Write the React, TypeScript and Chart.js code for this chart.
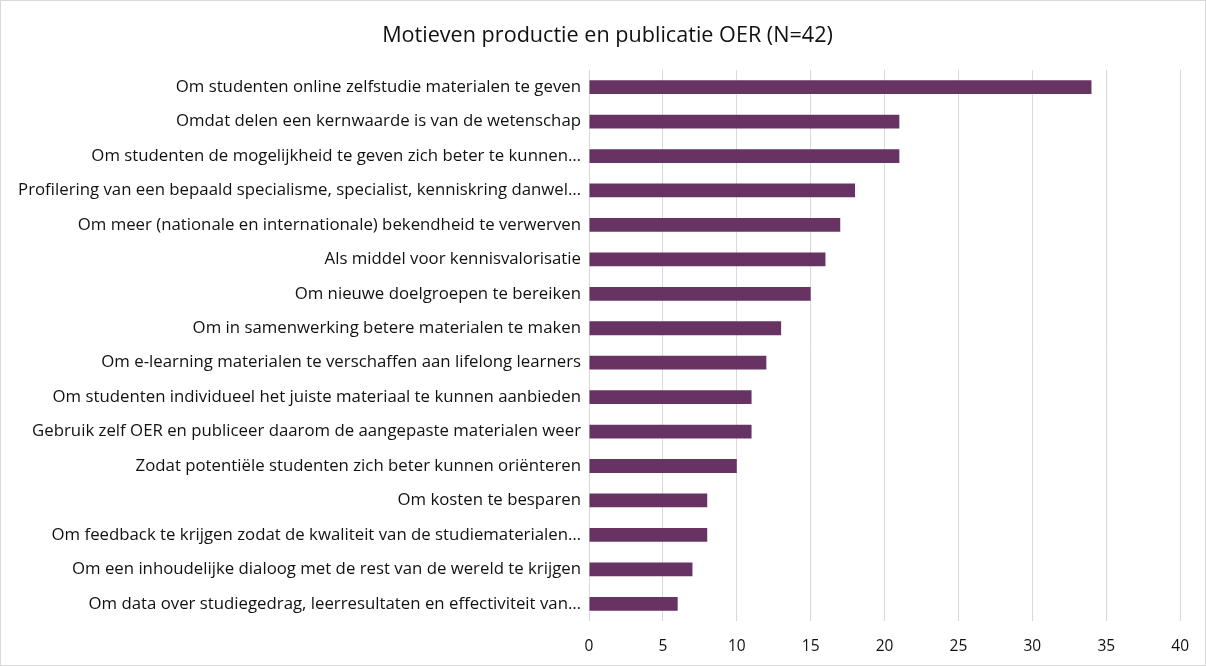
import React, { useEffect, useRef } from "react";
import { Chart, registerables } from "chart.js";

Chart.register(...registerables);

const chartTitle = "Motieven productie en publicatie OER (N=42)";

const categories = [
  "Om studenten online zelfstudie materialen te geven",
  "Omdat delen een kernwaarde is van de wetenschap",
  "Om studenten de mogelijkheid te geven zich beter te kunnen…",
  "Profilering van een bepaald specialisme, specialist, kenniskring danwel…",
  "Om meer (nationale en internationale) bekendheid te verwerven",
  "Als middel voor kennisvalorisatie",
  "Om nieuwe doelgroepen te bereiken",
  "Om in samenwerking betere materialen te maken",
  "Om e-learning materialen te verschaffen aan lifelong learners",
  "Om studenten individueel het juiste materiaal te kunnen aanbieden",
  "Gebruik zelf OER en publiceer daarom de aangepaste materialen weer",
  "Zodat potentiële studenten zich beter kunnen oriënteren",
  "Om kosten te besparen",
  "Om feedback te krijgen zodat de kwaliteit van de studiematerialen…",
  "Om een inhoudelijke dialoog met de rest van de wereld te krijgen",
  "Om data over studiegedrag, leerresultaten en effectiviteit van…",
];

const values = [34, 21, 21, 18, 17, 16, 15, 13, 12, 11, 11, 10, 8, 8, 7, 6];

const xMin = 0;
const xMax = 40;
const xStep = 5;

const titleShift = {
  id: "titleShift",
  afterLayout(chart: any) {
    const t = chart.titleBlock;
    if (t) {
      t.left = 0;
      t.right = 1213;
      t.width = 1213;
    }
  },
};

export default function App() {
  const canvasRef = useRef<HTMLCanvasElement | null>(null);

  useEffect(() => {
    document.body.style.margin = "0";
    const canvas = canvasRef.current;
    if (!canvas) return;
    const font = "'Open Sans', sans-serif";
    const chart = new Chart(canvas, {
      type: "bar",
      data: {
        labels: categories,
        datasets: [
          {
            data: values,
            backgroundColor: "#673363",
            borderWidth: 0,
            categoryPercentage: 1,
            barPercentage: 0.4,
          },
        ],
      },
      plugins: [titleShift],
      options: {
        indexAxis: "y",
        responsive: false,
        animation: false,
        maintainAspectRatio: false,
        layout: { padding: { top: 0, right: 22, bottom: 0, left: 0 } },
        plugins: {
          legend: { display: false },
          tooltip: { enabled: false },
          title: {
            display: true,
            text: chartTitle,
            color: "#111",
            font: { family: font, size: 21.6, weight: "normal" },
            padding: { top: 22, bottom: 21 },
          },
        },
        scales: {
          x: {
            min: xMin,
            max: xMax,
            ticks: {
              stepSize: xStep,
              color: "#111",
              font: { family: font, size: 15.5 },
              padding: 16,
            },
            grid: { color: "#d9d9d9", lineWidth: 1, drawTicks: false },
            border: { display: false },
            afterFit: (scale: any) => {
              scale.height = 44;
            },
          },
          y: {
            ticks: {
              color: "#111",
              font: { family: font, size: 16.8 },
              padding: 8,
              autoSkip: false,
            },
            grid: { display: false, drawTicks: false },
            border: { display: false },
            afterFit: (scale: any) => {
              scale.width = 588;
            },
          },
        },
      },
    });
    return () => chart.destroy();
  }, []);

  return (
    <div
      style={{
        position: "absolute",
        left: 0,
        top: 0,
        width: 1206,
        height: 666,
        boxSizing: "border-box",
        border: "1px solid #d9d9d9",
        background: "#fff",
      }}
    >
      <canvas ref={canvasRef} width={1204} height={664} style={{ display: "block" }} />
    </div>
  );
}
